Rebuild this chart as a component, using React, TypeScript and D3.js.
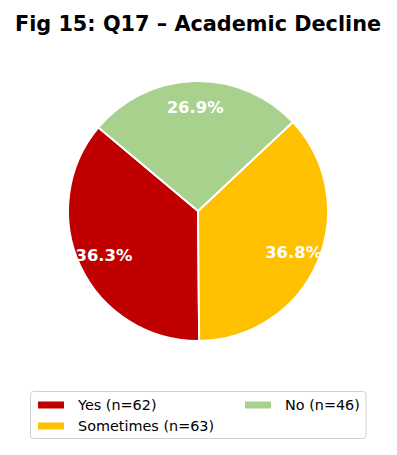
import React from "react";
import * as d3 from "d3";

const categories = ["Yes", "Sometimes", "No"];
const counts = [62, 63, 46];
const colors = ["#C00000", "#FFC000", "#A9D18E"];

const W = 397;
const H = 455;
const cx = 198;
const cy = 211;
const R = 130;
const FONT = "'DejaVu Sans', sans-serif";

export default function App() {
  const total = d3.sum(counts);
  // Counter-clockwise from 140° (math angle), i.e. d3 angle -50°
  const start = (-50 * Math.PI) / 180;
  const pie = d3
    .pie<number>()
    .sort(null)
    .startAngle(start)
    .endAngle(start - 2 * Math.PI);
  const arcs = pie(counts);
  const arcGen = d3.arc<d3.PieArcDatum<number>>().innerRadius(0).outerRadius(R);
  const labelArc = d3
    .arc<d3.PieArcDatum<number>>()
    .innerRadius(R * 0.8)
    .outerRadius(R * 0.8);

  return (
    <svg
      width={W}
      height={H}
      style={{ position: "absolute", left: 0, top: 0, background: "#fff" }}
    >
      <text
        x={W / 2 - 0.5}
        y={31}
        textAnchor="middle"
        fontFamily={FONT}
        fontWeight="bold"
        fontSize={20.8}
        fill="#000"
      >
        Fig 15: Q17 – Academic Decline
      </text>
      <g transform={`translate(${cx},${cy})`}>
        {arcs.map((a, i) => (
          <path
            key={categories[i]}
            d={arcGen(a) || ""}
            fill={colors[i]}
            stroke="#fff"
            strokeWidth={2}
            strokeLinejoin="round"
          />
        ))}
        {arcs.map((a, i) => {
          const [x, y] = labelArc.centroid(a);
          return (
            <text
              key={"l" + i}
              x={x}
              y={y}
              dy="0.35em"
              textAnchor="middle"
              fontFamily={FONT}
              fontWeight="bold"
              fontSize={16.4}
              fill="#fff"
            >
              {((counts[i] / total) * 100).toFixed(1)}%
            </text>
          );
        })}
      </g>
      <g>
        <rect
          x={30.5}
          y={391.5}
          width={335.5}
          height={47}
          rx={3}
          fill="#fff"
          stroke="#d0d0d0"
          strokeWidth={1}
        />
        {categories.map((c, i) => {
          const col = i < 2 ? 0 : 1;
          const row = i < 2 ? i : 0;
          const x0 = col === 0 ? 38 : 245;
          const y0 = 405 + row * 21;
          return (
            <g key={"lg" + c}>
              <rect x={x0} y={y0 - 3.5} width={26} height={7} fill={colors[i]} />
              <text
                x={x0 + 40}
                y={y0}
                dy="0.35em"
                fontFamily={FONT}
                fontSize={14.4}
                fill="#000"
              >
                {`${c} (n=${counts[i]})`}
              </text>
            </g>
          );
        })}
      </g>
    </svg>
  );
}
